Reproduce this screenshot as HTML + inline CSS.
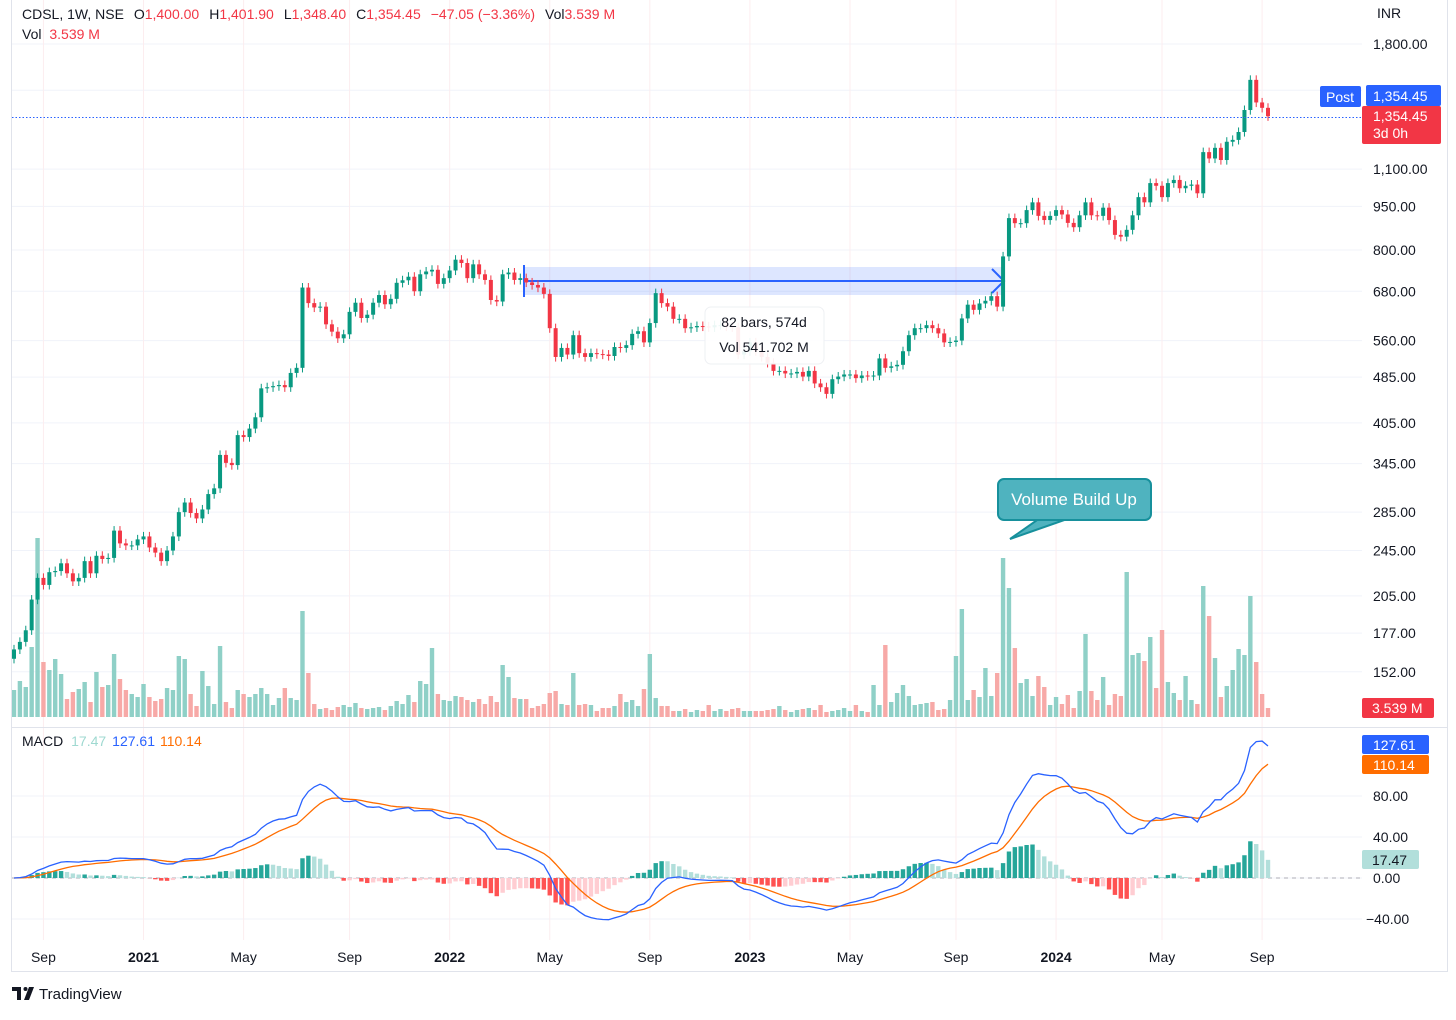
<!DOCTYPE html>
<html><head><meta charset="utf-8">
<style>
html,body{margin:0;padding:0;background:#fff;}
body{width:1456px;height:1015px;overflow:hidden;font-family:"Liberation Sans",sans-serif;}
svg text{font-family:"Liberation Sans",sans-serif;}
</style></head>
<body>
<svg id="chart" width="1456" height="1015" viewBox="0 0 1456 1015" xmlns="http://www.w3.org/2000/svg">
  <rect x="0" y="0" width="1456" height="1015" fill="#fff"/>
  <g id="grid"></g>
  <g id="volumes"></g>
  <rect x="524" y="267" width="481" height="28" fill="#2962ff" fill-opacity="0.16"/>
  <line x1="524" y1="281" x2="1003" y2="281" stroke="#2962ff" stroke-width="2"/>
  <polyline points="992,269 1004,281 992,293" fill="none" stroke="#2962ff" stroke-width="2"/>
  <line x1="524" y1="265" x2="524" y2="297" stroke="#2962ff" stroke-width="2"/>
  <g id="candles"></g>
  <g id="macd"></g>
  <line x1="12" y1="117.5" x2="1362" y2="117.5" stroke="#2962ff" stroke-width="1" stroke-dasharray="1.5,2"/>
  <line x1="12" y1="727.5" x2="1447" y2="727.5" stroke="#e0e3eb"/>
  <rect x="11.5" y="-1" width="1436" height="972.5" fill="none" stroke="#e0e3eb"/>
  <g id="axis"></g>
  <g id="timeaxis"></g>

  <g>
    <rect x="705" y="307" width="119" height="57" rx="6" fill="#fff" fill-opacity="0.92" stroke="#eef0f3"/>
    <text x="764" y="327" text-anchor="middle" font-size="14" fill="#131722">82 bars, 574d</text>
    <text x="764" y="352" text-anchor="middle" font-size="14" fill="#131722">Vol 541.702 M</text>
  </g>

  <g>
    <polygon points="1010,539 1040,518 1070,518" fill="#4fb3bf" stroke="#17909c" stroke-width="2"/>
    <rect x="998" y="479" width="153" height="41" rx="6" fill="#4fb3bf" stroke="#17909c" stroke-width="2"/>
    <rect x="1032" y="516" width="40" height="3" fill="#4fb3bf"/>
    <text x="1074" y="505" text-anchor="middle" font-size="17" fill="#fff">Volume Build Up</text>
  </g>

  <text x="22" y="19" font-size="14" fill="#131722">CDSL, 1W, NSE <tspan dx="6">O</tspan><tspan fill="#f23645">1,400.00</tspan><tspan dx="10">H</tspan><tspan fill="#f23645">1,401.90</tspan><tspan dx="10">L</tspan><tspan fill="#f23645">1,348.40</tspan><tspan dx="10">C</tspan><tspan fill="#f23645">1,354.45</tspan><tspan dx="10" fill="#f23645">−47.05 (−3.36%)</tspan><tspan dx="10">Vol</tspan><tspan fill="#f23645">3.539 M</tspan></text>
  <text x="22" y="39" font-size="14" fill="#131722">Vol <tspan dx="4" fill="#f23645">3.539 M</tspan></text>
  <text x="22" y="746" font-size="14" fill="#131722">MACD <tspan dx="4" fill="#9fd9d1">17.47</tspan><tspan dx="6" fill="#2962ff">127.61</tspan><tspan dx="6" fill="#ff6d00">110.14</tspan></text>
  <text x="1377" y="18" font-size="14" fill="#131722">INR</text>

  <rect x="1320" y="86" width="41" height="21" rx="2" fill="#2962ff"/>
  <text x="1340" y="102" text-anchor="middle" font-size="14" fill="#fff">Post</text>
  <rect x="1366" y="85" width="75" height="21" rx="2" fill="#2962ff"/>
  <text x="1373" y="101" font-size="14" fill="#fff">1,354.45</text>
  <rect x="1362" y="106" width="79" height="38" rx="2" fill="#f23645"/>
  <text x="1373" y="121" font-size="14" fill="#fff">1,354.45</text>
  <text x="1373" y="138" font-size="14" fill="#fff">3d 0h</text>
  <rect x="1362" y="698" width="72" height="20" rx="2" fill="#f23645"/>
  <text x="1372" y="713" font-size="14" fill="#fff">3.539 M</text>
  <rect x="1362" y="735" width="67" height="19" rx="2" fill="#2962ff"/>
  <text x="1373" y="750" font-size="14" fill="#fff">127.61</text>
  <rect x="1362" y="755" width="67" height="19" rx="2" fill="#ff6d00"/>
  <text x="1373" y="770" font-size="14" fill="#fff">110.14</text>
  <rect x="1362" y="850" width="57" height="19" rx="2" fill="#b2dfdb"/>
  <text x="1372" y="865" font-size="14" fill="#131722">17.47</text>

  <g>
    <path d="M12 987h9v13h-4v-9h-5z" fill="#131722"/>
    <circle cx="25.5" cy="989" r="2" fill="#131722"/>
    <path d="M29 987h5l-5 13h-5z" fill="#131722"/>
    <text x="39" y="999" font-size="15" fill="#131722">TradingView</text>
  </g>
</svg>
<script>
const closes = [166,171,179,202,220,214,225,226,233,224,217,220,235,224,240,237,238,265,252,250,250,256,259,248,243,235,245,259,285,296,284,278,288,306,313,357,346,343,386,383,396,414,464,466,468,470,466,493,503,690,649,638,640,597,580,565,574,627,650,612,620,650,670,646,660,703,710,720,680,727,735,740,700,716,738,770,760,716,756,727,711,657,653,727,732,
711,716,704,697,690,673,588,525,544,530,572,533,525,533,531,530,527,546,544,550,575,581,556,600,675,649,640,610,610,588,590,593,592,590,595,595,592,590,530,537,556,537,525,513,497,497,492,492,495,486,497,473,466,454,481,486,490,490,483,488,487,488,522,503,506,509,537,572,588,588,595,588,576,556,557,560,611,645,632,648,655,667,640,780,
907,889,889,936,965,915,900,915,936,920,890,875,917,965,917,915,945,900,849,843,866,917,985,965,1041,1030,985,1041,1054,1020,1030,1035,1000,1176,1147,1196,1140,1225,1234,1273,1388,1563,1430,1400,1354.45];
const volumes = [27,36,30,70,179,55,47,58,43,18,25,28,35,15,45,30,32,63,38,27,23,20,33,20,16,18,29,27,61,58,23,11,46,31,13,71,15,9,27,23,20,23,29,23,12,19,29,19,17,106,44,13,8,9,7,10,12,10,14,9,8,9,10,7,11,16,13,22,15,36,33,69,23,17,16,21,20,17,15,18,13,21,15,52,40,19,18,18,9,11,13,24,26,13,12,44,12,13,12,6,9,9,11,23,15,17,
11,28,63,19,11,11,6,6,8,5,7,6,12,6,8,6,8,9,6,6,6,6,7,8,11,7,5,7,8,9,7,12,5,6,7,9,6,12,6,5,32,12,72,15,24,32,21,12,13,14,15,7,8,17,61,108,17,27,20,49,21,44,159,129,69,34,38,21,41,30,12,20,13,22,9,26,83,26,17,40,12,23,21,145,62,64,56,80,29,87,35,24,17,41,17,13,131,101,59,20,31,47,68,62,121,55,23,9];
const firstOpen = 160;
const priceTicks = [1800,1500,1100,950,800,680,560,485,405,345,285,245,205,177,152];
const macdTicks = [80,40,0,-40];
const timeLabels = ["Sep","2021","May","Sep","2022","May","Sep","2023","May","Sep","2024","May","Sep"];
const timeLabelBars = [5,22,39,57,74,91,108,125,142,160,177,195,212];

const NS="http://www.w3.org/2000/svg";
const X0=14, X1=1268, N=closes.length;
const step=(X1-X0)/(N-1);
const xB=i=>X0+i*step;
const LTOP=Math.log(1800), PPU=254;
const yP=p=>44+(LTOP-Math.log(p))*PPU;
const VBASE=717;
const yV=v=>VBASE-v;
const M0=878, MS=1.025;
const yM=v=>M0-v*MS;
function el(tag,attrs,parent){const e=document.createElementNS(NS,tag);for(const k in attrs)e.setAttribute(k,attrs[k]);parent.appendChild(e);return e;}

const grid=document.getElementById('grid');
priceTicks.forEach(p=>{const l=el('line',{x1:12,x2:1362,y1:yP(p),y2:yP(p),stroke:'#f0f3fa'},grid);

});
macdTicks.forEach(v=>{const l=el('line',{x1:12,x2:1362,y1:yM(v),y2:yM(v),stroke:'#f0f3fa'},grid);

});
timeLabelBars.forEach(b=>{const l=el('line',{x1:xB(b),x2:xB(b),y1:0,y2:940,stroke:'#fcedef'},grid);

});

const axis=document.getElementById('axis');
priceTicks.forEach(p=>{const t=el('text',{x:1373,y:yP(p)+5,'font-size':14,fill:'#131722'},axis);
t.textContent=p.toLocaleString('en-US',{minimumFractionDigits:2});

});
macdTicks.forEach(v=>{const t=el('text',{x:v<0?1366:1373,y:yM(v)+5,'font-size':14,fill:'#131722'},axis);
t.textContent=(v<0?'−':'')+Math.abs(v).toFixed(2);

});
const ta=document.getElementById('timeaxis');
timeLabels.forEach((s,k)=>{const bold=/^\d/.test(s);const t=el('text',{x:xB(timeLabelBars[k]),y:962,'font-size':14,'text-anchor':'middle',fill:'#131722','font-weight':bold?'bold':'normal'},ta);
t.textContent=s;

});

const cg=document.getElementById('candles'), vg=document.getElementById('volumes');
for(let i=0;i<N;i++){
  const o=i===0?firstOpen:closes[i-1], c=closes[i];
  const up=c>=o, col=up?'#089981':'#f23645';
  const hi=Math.max(o,c)*1.018, lo=Math.min(o,c)*0.982;
  const x=xB(i);
  const w=el('line',{x1:x,x2:x,y1:yP(hi),y2:yP(lo),stroke:col,'stroke-width':1},cg);
  
  
  const yt=yP(Math.max(o,c)), yb=yP(Math.min(o,c));
  const r=el('rect',{x:x-2,y:yt,width:4,height:Math.max(1,yb-yt),fill:col},cg);
  
  
  const vv=volumes[i]||0;
  const vr=el('rect',{x:x-2.2,y:yV(vv),width:4.4,height:vv,fill:up?'#8fd0c7':'#f7a9a7'},vg);
  
  
}

function ema(arr,n){const k=2/(n+1);const out=[];let e=arr[0];arr.forEach((v,i)=>{e=i?v*k+e*(1-k):v;out.push(e);});return out;}
const e12=ema(closes,12), e26=ema(closes,26);
const macdLine=closes.map((_,i)=>e12[i]-e26[i]);
const signal=ema(macdLine,9);
const mg=document.getElementById('macd');
const zl=el('line',{x1:12,x2:1362,y1:M0,y2:M0,stroke:'#9598a1','stroke-dasharray':'4,4','stroke-width':0.8},mg);


for(let i=0;i<N;i++){
  const h=macdLine[i]-signal[i], hp=i?macdLine[i-1]-signal[i-1]:0;
  const col=h>=0?(h>=hp?'#26a69a':'#b2dfdb'):(h<hp?'#ff5252':'#ffcdd2');
  const b=el('rect',{x:xB(i)-2.2,y:Math.min(yM(h),M0),width:4.4,height:Math.abs(h*MS),fill:col},mg);
  
  
}
const pl=(arr,col,name)=>{const p=el('polyline',{points:arr.map((v,i)=>xB(i).toFixed(1)+','+yM(v).toFixed(1)).join(' '),fill:'none',stroke:col,'stroke-width':1.3},mg);

};
pl(signal,'#ff6d00','signal-line');
pl(macdLine,'#2962ff','macd-line');
</script>
</body></html>
